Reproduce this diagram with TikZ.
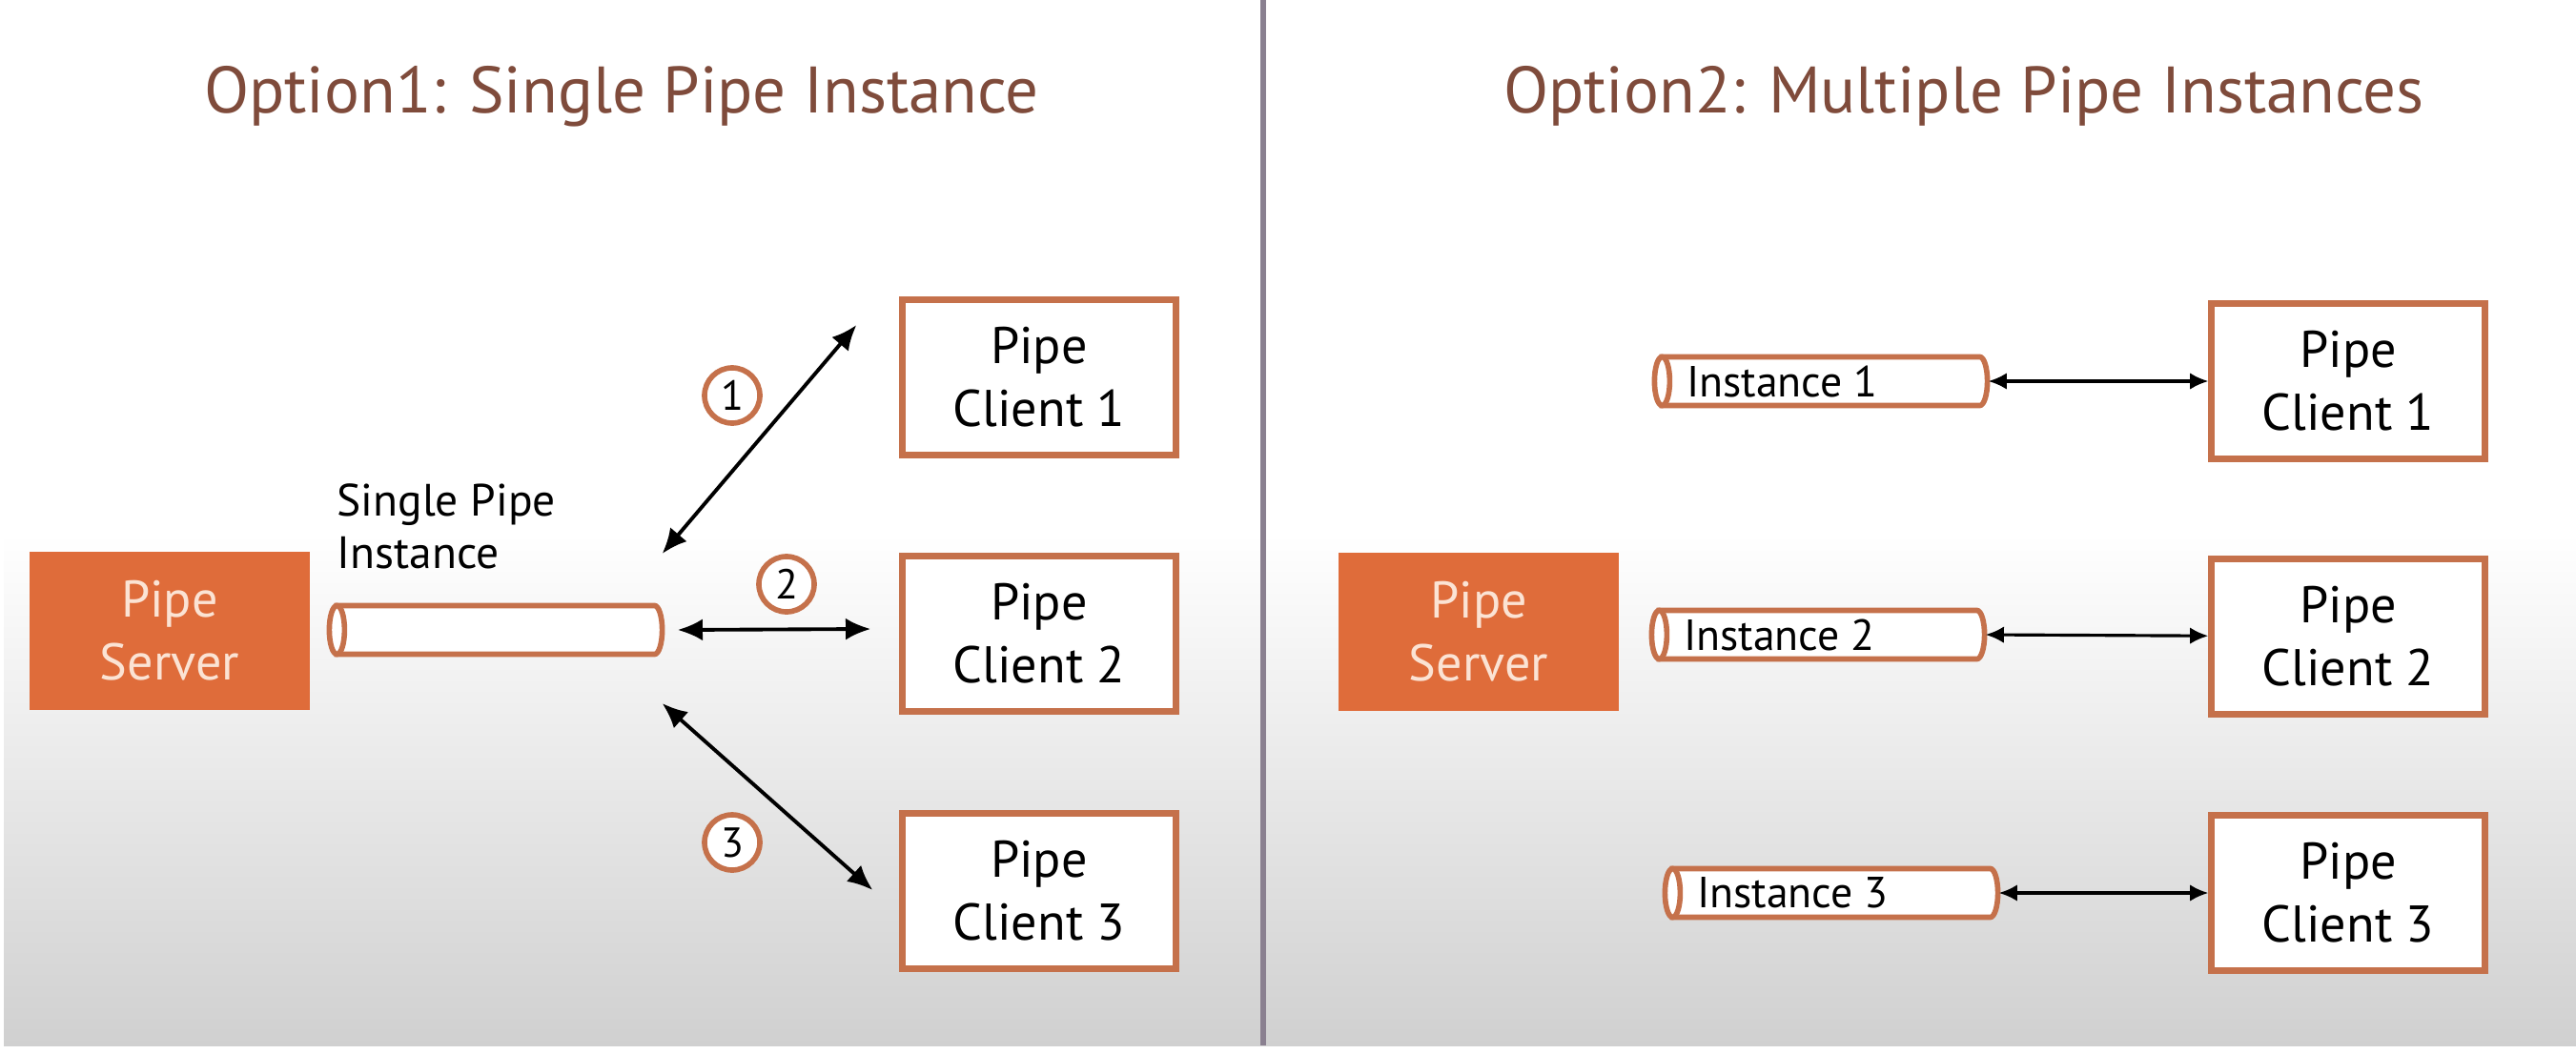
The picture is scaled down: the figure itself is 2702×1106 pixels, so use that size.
\documentclass[tikz,border=0pt]{standalone}
\usepackage{fontspec}
\setmainfont{PT Sans}
\usetikzlibrary{arrows.meta}
\definecolor{titlebrown}{HTML}{7F4B3B}
\definecolor{pipeedge}{HTML}{C5714B}
\definecolor{serverorange}{HTML}{DF6C3A}
\definecolor{serverpeach}{HTML}{FBE3D4}
\definecolor{bggray}{HTML}{D0D0D0}
\definecolor{divider}{HTML}{8A8090}
\tikzstyle{title}=[text=titlebrown,font=\fontsize{19.6}{24}\selectfont,inner sep=0pt]
\tikzstyle{server}=[rectangle,fill=serverorange,text=serverpeach,minimum width=2.93cm,minimum height=1.65cm,align=center,font=\fontsize{15.4}{18.8}\selectfont]
\tikzstyle{client}=[rectangle,draw=pipeedge,line width=2pt,fill=white,minimum width=2.86cm,minimum height=1.62cm,align=center,font=\fontsize{15.4}{18.8}\selectfont]
\tikzstyle{pipe}=[rectangle,minimum width=3.33cm,minimum height=0.51cm,inner sep=0pt,outer sep=0pt]
\tikzstyle{pipeline}=[draw=pipeedge,line width=1.6pt,fill=white]
\tikzstyle{pipelabel}=[font=\fontsize{13}{14}\selectfont,inner sep=0pt,anchor=west]
\tikzstyle{numcircle}=[circle,draw=pipeedge,line width=1.6pt,fill=white,minimum size=0.58cm,inner sep=0pt,font=\fontsize{12.5}{13}\selectfont]
\tikzstyle{link}=[draw,line width=1.1pt,{Latex[length=7.5pt,width=6.5pt]}-{Latex[length=7.5pt,width=6.5pt]}]
\tikzstyle{rlink}=[draw,line width=0.9pt,{Latex[length=5.5pt,width=5pt]}-{Latex[length=5.5pt,width=5pt]}]

% outline of a pipe round a pipe node: body with rounded right end, open face on the left
\newcommand{\pipeoutline}[1]{
    \draw[pipeline] (#1.north west) -- (#1.north east)
        arc[start angle=90,end angle=-90,x radius=0.08cm,y radius=0.255cm]
        -- (#1.south west) -- cycle;
    \draw[pipeline] (#1.west) ellipse[x radius=0.08cm,y radius=0.255cm];
}

\begin{document}
\begin{tikzpicture}[x=0.01cm,y=-0.01cm]

\useasboundingbox (0,0) rectangle (2702,1106);
\fill[white] (0,0) rectangle (2702,1106);
\shade[top color=white,bottom color=bggray] (4,560) rectangle (2702,1097);
\draw[divider,line width=1.8pt] (1325,0) -- (1325,1097);

% titles
\node[title,anchor=base] (title1) at (652,118) {Option1: Single Pipe Instance};
\node[title,anchor=base] (title2) at (2060,118) {Option2: Multiple Pipe Instances};

% option 1
\node[server] (lserver) at (178,662) {Pipe\\Server};
\node[pipe] (pipe) at (520,661) {};
\pipeoutline{pipe}
\node[pipelabel,align=left,font=\fontsize{13.5}{15.6}\selectfont] (pipetext) at (353,552) {Single Pipe\\Instance};

\foreach \pos/ \name/ \num in {{(1090,396)/lclient1/1},{(1090,665)/lclient2/2},{(1090,935)/lclient3/3}}
    \node[client] (\name) at \pos {Pipe\\Client \num};

\draw[link] ([shift={(8,-80)}]pipe.east) -- ([shift={(-45,-55)}]lclient1.west);
\draw[link] ([shift={(24,0)}]pipe.east) -- ([shift={(-30,-5)}]lclient2.west);
\draw[link] ([shift={(8,77)}]pipe.east) -- ([shift={(-28,-1)}]lclient3.west);

\foreach \pos/ \num in {{(768,415)/1},{(825,613)/2},{(768,884)/3}}
    \node[numcircle] (num\num) at \pos {\num};

% option 2
\node[server] (rserver) at (1551,663) {Pipe\\Server};

\foreach \pos/ \name/ \num in {{(1910,400)/inst1/1},{(1907,666)/inst2/2},{(1921,937)/inst3/3}}
{
    \node[pipe] (\name) at \pos {};
    \pipeoutline{\name}
    \node[pipelabel,xshift=0.25cm] (\name text) at (\name.west) {Instance \num};
}

\foreach \pos/ \name/ \num in {{(2463,400)/rclient1/1},{(2463,668)/rclient2/2},{(2463,937)/rclient3/3}}
    \node[client] (\name) at \pos {Pipe\\Client \num};

\foreach \source/ \dest in {inst1/rclient1, inst2/rclient2, inst3/rclient3}
    \path[rlink] ([xshift=0.09cm]\source.east) -- (\dest);

\end{tikzpicture}
\end{document}
